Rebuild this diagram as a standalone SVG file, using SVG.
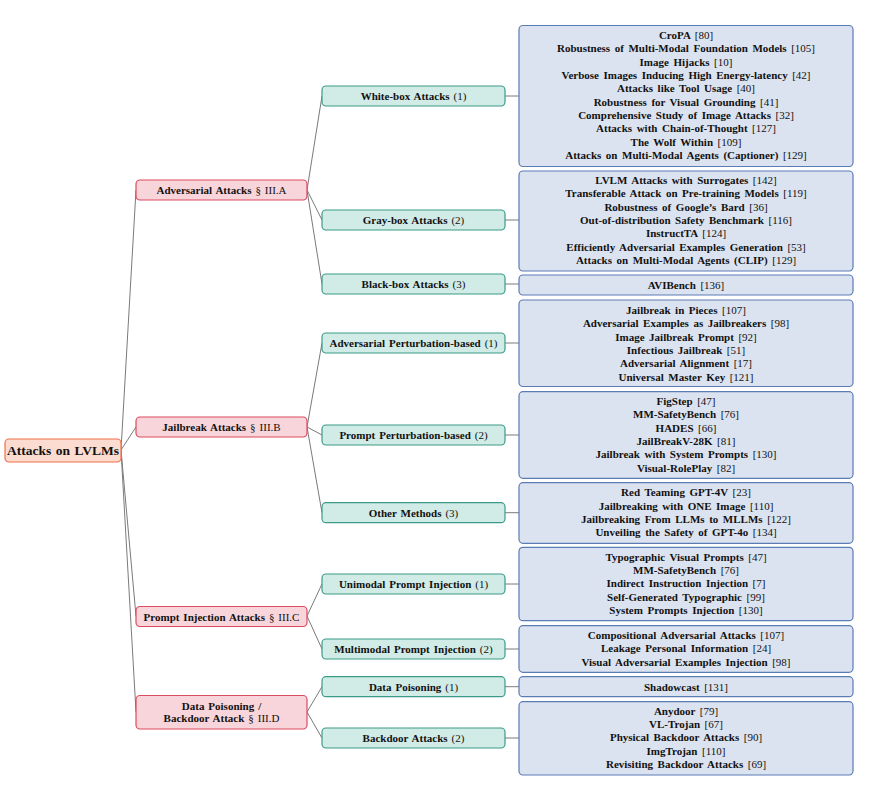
<svg xmlns="http://www.w3.org/2000/svg" width="870" height="789" viewBox="0 0 870 789">
<style>
text{font-family:"Liberation Serif","Times New Roman",serif;fill:#111;text-anchor:middle;dominant-baseline:central}
.b{font-weight:bold}
.n{font-weight:normal}
.root rect{fill:#fcdcd0;stroke:#ef7149;stroke-width:1.2}
.l1 rect{fill:#f8d5da;stroke:#dc4a5e;stroke-width:1.2}
.l2 rect{fill:#d1ebe6;stroke:#3a9c88;stroke-width:1.2}
.lf rect{fill:#dce3f0;stroke:#5b7bb5;stroke-width:1.2}
.l1 text,.l2 text{font-size:11px;font-weight:bold;word-spacing:1.2px}
.lf text{font-size:11px;font-weight:bold;word-spacing:1.8px}
#edges path{stroke:#7a7a7a;stroke-width:1;fill:none}
</style>
<rect width="870" height="789" fill="#fff"/>
<g id="edges">
<path d="M121 450L136 190M121 450L136 427M121 450L136 616M121 450L136 712"/>
<path d="M307 190L322 96M307 190L322 220M307 190L322 284"/>
<path d="M307 427L322 343M307 427L322 435M307 427L322 512.7"/>
<path d="M307 616L322 584M307 616L322 649"/>
<path d="M307 712L322 686.7M307 712L322 738"/>
<path d="M505 96H519M505 220H519M505 284H519M505 343H519M505 435H519M505 512.7H519M505 584H519M505 649H519M505 686.7H519M505 738H519"/>
</g>
<g id="root" class="root"><rect x="5" y="439" width="116" height="23" rx="4"/><text x="63" y="450.5" class="b" style="font-size:13.5px;word-spacing:1.2px">Attacks on LVLMs</text></g>

<g id="adv" class="l1"><rect x="136" y="180" width="171" height="20" rx="4"/><text x="221.5" y="190">Adversarial Attacks <tspan class="n">§ III.A</tspan></text></g>
<g id="jb" class="l1"><rect x="136" y="417" width="171" height="20" rx="4"/><text x="221.5" y="427">Jailbreak Attacks <tspan class="n">§ III.B</tspan></text></g>
<g id="pi" class="l1"><rect x="136" y="606.5" width="171" height="20" rx="4"/><text x="221.5" y="616.5">Prompt Injection Attacks <tspan class="n">§ III.C</tspan></text></g>
<g id="dp" class="l1"><rect x="136" y="695.5" width="171" height="33.5" rx="4"/><text x="221.5" y="705.7">Data Poisoning /</text><text x="221.5" y="718.3">Backdoor Attack <tspan class="n">§ III.D</tspan></text></g>

<g id="wb" class="l2"><rect x="322" y="86" width="183" height="20" rx="4"/><text x="413.5" y="96">White-box Attacks <tspan class="n">(1)</tspan></text></g>
<g id="gb" class="l2"><rect x="322" y="210" width="183" height="20" rx="4"/><text x="413.5" y="220">Gray-box Attacks <tspan class="n">(2)</tspan></text></g>
<g id="bb" class="l2"><rect x="322" y="274" width="183" height="20" rx="4"/><text x="413.5" y="284">Black-box Attacks <tspan class="n">(3)</tspan></text></g>
<g id="ap" class="l2"><rect x="322" y="333" width="183" height="20" rx="4"/><text x="413.5" y="343">Adversarial Perturbation-based <tspan class="n">(1)</tspan></text></g>
<g id="pp" class="l2"><rect x="322" y="425" width="183" height="20" rx="4"/><text x="413.5" y="435">Prompt Perturbation-based <tspan class="n">(2)</tspan></text></g>
<g id="om" class="l2"><rect x="322" y="502.7" width="183" height="20" rx="4"/><text x="413.5" y="512.7">Other Methods <tspan class="n">(3)</tspan></text></g>
<g id="upi" class="l2"><rect x="322" y="574" width="183" height="20" rx="4"/><text x="413.5" y="584">Unimodal Prompt Injection <tspan class="n">(1)</tspan></text></g>
<g id="mpi" class="l2"><rect x="322" y="639" width="183" height="20" rx="4"/><text x="413.5" y="649">Multimodal Prompt Injection <tspan class="n">(2)</tspan></text></g>
<g id="dpo" class="l2"><rect x="322" y="676.7" width="183" height="20" rx="4"/><text x="413.5" y="686.7">Data Poisoning <tspan class="n">(1)</tspan></text></g>
<g id="bda" class="l2"><rect x="322" y="728" width="183" height="20" rx="4"/><text x="413.5" y="738">Backdoor Attacks <tspan class="n">(2)</tspan></text></g>

<g id="leaf-wb" class="lf"><rect x="519" y="25.5" width="334" height="141" rx="4"/>
<text x="686" y="35">CroPA <tspan class="n">[80]</tspan></text>
<text x="686" y="48.3">Robustness of Multi-Modal Foundation Models <tspan class="n">[105]</tspan></text>
<text x="686" y="61.7">Image Hijacks <tspan class="n">[10]</tspan></text>
<text x="686" y="75">Verbose Images Inducing High Energy-latency <tspan class="n">[42]</tspan></text>
<text x="686" y="88.3">Attacks like Tool Usage <tspan class="n">[40]</tspan></text>
<text x="686" y="101.7">Robustness for Visual Grounding <tspan class="n">[41]</tspan></text>
<text x="686" y="115">Comprehensive Study of Image Attacks <tspan class="n">[32]</tspan></text>
<text x="686" y="128.3">Attacks with Chain-of-Thought <tspan class="n">[127]</tspan></text>
<text x="686" y="141.7">The Wolf Within <tspan class="n">[109]</tspan></text>
<text x="686" y="155">Attacks on Multi-Modal Agents (Captioner) <tspan class="n">[129]</tspan></text>
</g>
<g id="leaf-gb" class="lf"><rect x="519" y="171" width="334" height="100" rx="4"/>
<text x="686" y="180">LVLM Attacks with Surrogates <tspan class="n">[142]</tspan></text>
<text x="686" y="193.3">Transferable Attack on Pre-training Models <tspan class="n">[119]</tspan></text>
<text x="686" y="206.7">Robustness of Google’s Bard <tspan class="n">[36]</tspan></text>
<text x="686" y="220">Out-of-distribution Safety Benchmark <tspan class="n">[116]</tspan></text>
<text x="686" y="233.3">InstructTA <tspan class="n">[124]</tspan></text>
<text x="686" y="246.7">Efficiently Adversarial Examples Generation <tspan class="n">[53]</tspan></text>
<text x="686" y="260">Attacks on Multi-Modal Agents (CLIP) <tspan class="n">[129]</tspan></text>
</g>
<g id="leaf-bb" class="lf"><rect x="519" y="275" width="334" height="20" rx="4"/>
<text x="686" y="284.5">AVIBench <tspan class="n">[136]</tspan></text>
</g>
<g id="leaf-ap" class="lf"><rect x="519" y="300" width="334" height="86.5" rx="4"/>
<text x="686" y="310">Jailbreak in Pieces <tspan class="n">[107]</tspan></text>
<text x="686" y="323.3">Adversarial Examples as Jailbreakers <tspan class="n">[98]</tspan></text>
<text x="686" y="336.7">Image Jailbreak Prompt <tspan class="n">[92]</tspan></text>
<text x="686" y="350">Infectious Jailbreak <tspan class="n">[51]</tspan></text>
<text x="686" y="363.3">Adversarial Alignment <tspan class="n">[17]</tspan></text>
<text x="686" y="376.7">Universal Master Key <tspan class="n">[121]</tspan></text>
</g>
<g id="leaf-pp" class="lf"><rect x="519" y="391.7" width="334" height="86.6" rx="4"/>
<text x="686" y="401">FigStep <tspan class="n">[47]</tspan></text>
<text x="686" y="414.3">MM-SafetyBench <tspan class="n">[76]</tspan></text>
<text x="686" y="427.7">HADES <tspan class="n">[66]</tspan></text>
<text x="686" y="441">JailBreakV-28K <tspan class="n">[81]</tspan></text>
<text x="686" y="454.3">Jailbreak with System Prompts <tspan class="n">[130]</tspan></text>
<text x="686" y="467.7">Visual-RolePlay <tspan class="n">[82]</tspan></text>
</g>
<g id="leaf-om" class="lf"><rect x="519" y="482.7" width="334" height="60.6" rx="4"/>
<text x="686" y="492.3">Red Teaming GPT-4V <tspan class="n">[23]</tspan></text>
<text x="686" y="505.7">Jailbreaking with ONE Image <tspan class="n">[110]</tspan></text>
<text x="686" y="519">Jailbreaking From LLMs to MLLMs <tspan class="n">[122]</tspan></text>
<text x="686" y="532.3">Unveiling the Safety of GPT-4o <tspan class="n">[134]</tspan></text>
</g>
<g id="leaf-upi" class="lf"><rect x="519" y="547.3" width="334" height="73.4" rx="4"/>
<text x="686" y="556.5">Typographic Visual Prompts <tspan class="n">[47]</tspan></text>
<text x="686" y="569.8">MM-SafetyBench <tspan class="n">[76]</tspan></text>
<text x="686" y="583.2">Indirect Instruction Injection <tspan class="n">[7]</tspan></text>
<text x="686" y="596.5">Self-Generated Typographic <tspan class="n">[99]</tspan></text>
<text x="686" y="609.8">System Prompts Injection <tspan class="n">[130]</tspan></text>
</g>
<g id="leaf-mpi" class="lf"><rect x="519" y="625.7" width="334" height="46.6" rx="4"/>
<text x="686" y="635">Compositional Adversarial Attacks <tspan class="n">[107]</tspan></text>
<text x="686" y="648.3">Leakage Personal Information <tspan class="n">[24]</tspan></text>
<text x="686" y="661.7">Visual Adversarial Examples Injection <tspan class="n">[98]</tspan></text>
</g>
<g id="leaf-dpo" class="lf"><rect x="519" y="676.7" width="334" height="20" rx="4"/>
<text x="686" y="686.7">Shadowcast <tspan class="n">[131]</tspan></text>
</g>
<g id="leaf-bda" class="lf"><rect x="519" y="701.7" width="334" height="73.3" rx="4"/>
<text x="686" y="710.8">Anydoor <tspan class="n">[79]</tspan></text>
<text x="686" y="724.1">VL-Trojan <tspan class="n">[67]</tspan></text>
<text x="686" y="737.4">Physical Backdoor Attacks <tspan class="n">[90]</tspan></text>
<text x="686" y="750.7">ImgTrojan <tspan class="n">[110]</tspan></text>
<text x="686" y="764">Revisiting Backdoor Attacks <tspan class="n">[69]</tspan></text>
</g>
</svg>
